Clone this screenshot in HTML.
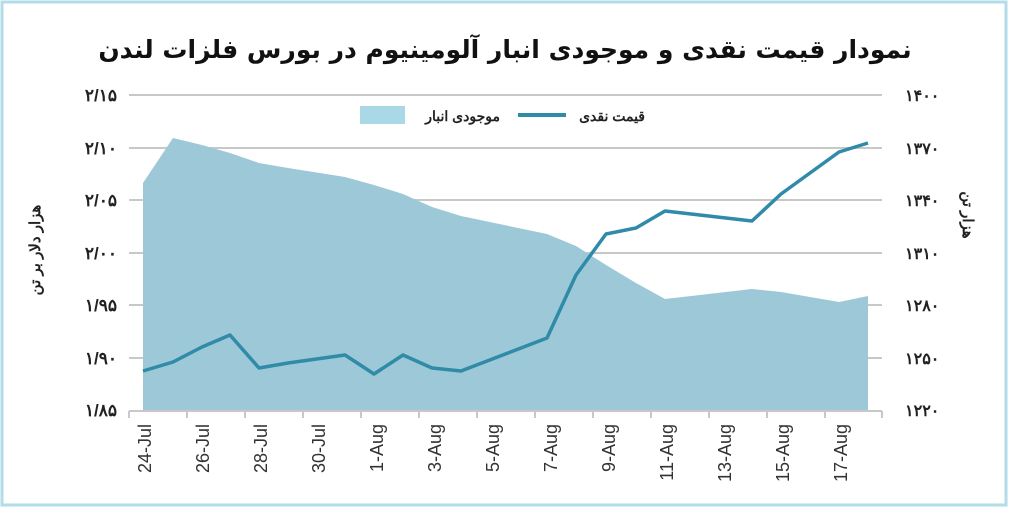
<!DOCTYPE html>
<html><head><meta charset="utf-8"><style>
body{margin:0;background:#fff;}
svg{display:block;}
text{font-family:"Liberation Sans","Noto Sans CJK SC",sans-serif;}
</style></head><body>
<svg width="1010" height="509" viewBox="0 0 1010 509">
<rect x="2" y="2" width="1004" height="503" fill="#fff" stroke="#b3dcea" stroke-width="3"/>
<text x="505" y="58" text-anchor="middle" font-size="25" font-weight="bold" fill="#111" style="font-family:'DejaVu Sans',sans-serif">نمودار قیمت نقدی و موجودی انبار آلومینیوم در بورس فلزات لندن</text>
<g stroke="#c8c8c8" stroke-width="2">
<line x1="129" y1="95" x2="882" y2="95"/>
<line x1="129" y1="148" x2="882" y2="148"/>
<line x1="129" y1="200" x2="882" y2="200"/>
<line x1="129" y1="253" x2="882" y2="253"/>
<line x1="129" y1="305" x2="882" y2="305"/>
<line x1="129" y1="358" x2="882" y2="358"/>
</g>
<polygon fill="#9dc8d7" points="143,410 143,183 173,138 202,145 230,153 259,163 288,168 345,177 374,185 403,194 432,207 461,216 547,234 576,246 606,265 636,283 665,299 752,289 781,292 810,297 839,302 868,296 868,410"/>
<g stroke="#c8c8c8" stroke-width="2">
<line x1="129" y1="411" x2="882" y2="411"/>
<line x1="129" y1="411" x2="129" y2="418"/><line x1="187" y1="411" x2="187" y2="418"/><line x1="245" y1="411" x2="245" y2="418"/><line x1="303" y1="411" x2="303" y2="418"/><line x1="361" y1="411" x2="361" y2="418"/><line x1="419" y1="411" x2="419" y2="418"/><line x1="477" y1="411" x2="477" y2="418"/><line x1="535" y1="411" x2="535" y2="418"/><line x1="593" y1="411" x2="593" y2="418"/><line x1="651" y1="411" x2="651" y2="418"/><line x1="709" y1="411" x2="709" y2="418"/><line x1="767" y1="411" x2="767" y2="418"/><line x1="825" y1="411" x2="825" y2="418"/><line x1="882" y1="411" x2="882" y2="418"/>
</g>
<polyline fill="none" stroke="#2f8ba7" stroke-width="3.5" stroke-linejoin="round" points="143,371 173,362 202,347 230,335 259,368 288,363 345,355 374,374 403,355 432,368 461,371 547,338 576,275 606,234 636,228 665,211 752,221 781,194 810,173 839,152 868,143"/>
<rect x="360" y="106" width="45" height="18" fill="#a9d9e6"/>
<text x="500" y="121" text-anchor="end" font-size="14" font-weight="bold" fill="#222">موجودی انبار</text>
<line x1="518" y1="115" x2="566" y2="115" stroke="#2f8ba7" stroke-width="4"/>
<text x="645" y="121" text-anchor="end" font-size="14" font-weight="bold" fill="#222">قیمت نقدی</text>
<g font-size="17" font-weight="bold" fill="#222" text-anchor="end">
<text x="117" y="101">۲/۱۵</text><text x="117" y="154">۲/۱۰</text><text x="117" y="206">۲/۰۵</text><text x="117" y="259">۲/۰۰</text><text x="117" y="311">۱/۹۵</text><text x="117" y="364">۱/۹۰</text><text x="117" y="416">۱/۸۵</text>
</g>
<g font-size="16" font-weight="bold" fill="#222">
<text x="905" y="101">۱۴۰۰</text><text x="905" y="154">۱۳۷۰</text><text x="905" y="206">۱۳۴۰</text><text x="905" y="259">۱۳۱۰</text><text x="905" y="311">۱۲۸۰</text><text x="905" y="364">۱۲۵۰</text><text x="905" y="416">۱۲۲۰</text>
</g>
<text transform="translate(40,250) rotate(-90)" text-anchor="middle" font-size="15" font-weight="bold" fill="#222">هزار دلار بر تن</text>
<text transform="translate(963,215) rotate(90)" text-anchor="middle" font-size="15" font-weight="bold" fill="#222">هزار تن</text>
<g font-size="18" fill="#333" text-anchor="end">
<text transform="translate(151,424) rotate(-90)">24-Jul</text>
<text transform="translate(209,424) rotate(-90)">26-Jul</text>
<text transform="translate(267,424) rotate(-90)">28-Jul</text>
<text transform="translate(325,424) rotate(-90)">30-Jul</text>
<text transform="translate(383,424) rotate(-90)">1-Aug</text>
<text transform="translate(441,424) rotate(-90)">3-Aug</text>
<text transform="translate(499,424) rotate(-90)">5-Aug</text>
<text transform="translate(557,424) rotate(-90)">7-Aug</text>
<text transform="translate(615,424) rotate(-90)">9-Aug</text>
<text transform="translate(673,424) rotate(-90)">11-Aug</text>
<text transform="translate(731,424) rotate(-90)">13-Aug</text>
<text transform="translate(789,424) rotate(-90)">15-Aug</text>
<text transform="translate(847,424) rotate(-90)">17-Aug</text>
</g>
</svg>
</body></html>
